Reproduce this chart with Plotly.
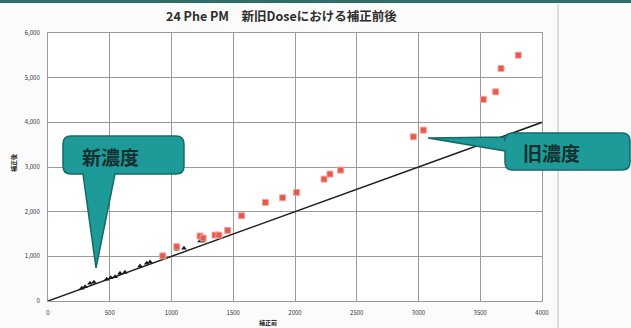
import plotly.graph_objects as go

# ---- data ----
title_text = "24 Phe PM　新旧Doseにおける補正前後"
x_title = "補正前"
y_title = "補正後"
label_new = "新濃度"
label_old = "旧濃度"

old_x = [929, 1042, 1231, 1256, 1352, 1384, 1455, 1568, 1760, 1900, 2013, 2235, 2283, 2370, 2958, 3039, 3525, 3625, 3668, 3808]
old_y = [1010, 1215, 1454, 1409, 1476, 1476, 1581, 1909, 2208, 2311, 2431, 2729, 2841, 2931, 3676, 3826, 4512, 4683, 5206, 5503]

new_x = [273, 300, 340, 372, 475, 508, 543, 583, 623, 745, 799, 826, 934, 1042, 1101, 1231, 1256]
new_y = [284, 320, 396, 418, 485, 521, 544, 620, 642, 783, 843, 872, 965, 1157, 1179, 1342, 1342]

ref_x = [0, 4000]
ref_y = [0, 4000]

x_ticks = [0, 500, 1000, 1500, 2000, 2500, 3000, 3500, 4000]
y_ticks = [0, 1000, 2000, 3000, 4000, 5000, 6000]

# ---- layout geometry (pixels) ----
W, H = 631, 328
L, R, T, B = 48, 542, 33, 301


def px(xp, yp):
    return (xp - L) / (R - L), (B - yp) / (B - T)


def callout_path(x0, y0, x1, y1, r, tail):
    def P(a, b):
        u, v = px(a, b)
        return f"{u:.5f},{v:.5f}"
    s = f"M {P(x0 + r, y0)} L {P(x1 - r, y0)} Q {P(x1, y0)} {P(x1, y0 + r)} "
    s += f"L {P(x1, y1 - r)} Q {P(x1, y1)} {P(x1 - r, y1)} "
    if tail[0] == 'bottom':
        for (a, b) in tail[1]:
            s += f"L {P(a, b)} "
    s += f"L {P(x0 + r, y1)} Q {P(x0, y1)} {P(x0, y1 - r)} "
    if tail[0] == 'left':
        for (a, b) in tail[1]:
            s += f"L {P(a, b)} "
    s += f"L {P(x0, y0 + r)} Q {P(x0, y0)} {P(x0 + r, y0)} Z"
    return s


teal = "#1e9a98"
teal_line = "#146a6a"

fig = go.Figure()

fig.add_trace(go.Scatter(x=ref_x, y=ref_y, mode="lines",
                         line=dict(color="#222222", width=1.5), showlegend=False))
fig.add_trace(go.Scatter(x=new_x, y=new_y, mode="markers",
                         marker=dict(symbol="triangle-up", size=5, color="#1a1a1a"),
                         showlegend=False))
fig.add_trace(go.Scatter(x=old_x, y=old_y, mode="markers",
                         marker=dict(symbol="square", size=6, color="#e5584c",
                                     line=dict(color="#f3a49c", width=1)),
                         showlegend=False))

shapes = [
    dict(type="rect", xref="paper", yref="paper",
         x0=px(0, 0)[0], x1=px(W, 0)[0], y0=px(0, 0)[1], y1=px(0, 3)[1],
         fillcolor="#2f6f6a", line=dict(width=0), layer="above"),
    dict(type="line", xref="paper", yref="paper",
         x0=px(558, 0)[0], x1=px(558, 0)[0], y0=px(0, 4)[1], y1=px(0, H)[1],
         line=dict(color="#bdbdbd", width=1)),
    dict(type="path", xref="paper", yref="paper",
         path=callout_path(63, 136, 184, 174, 8,
                           ('bottom', [(115, 174), (96, 268), (83, 174)])),
         fillcolor=teal, line=dict(color=teal_line, width=1.5), layer="above"),
    dict(type="path", xref="paper", yref="paper",
         path=callout_path(505, 133, 630, 170, 8,
                           ('left', [(505, 151), (428, 138), (505, 137)])),
         fillcolor=teal, line=dict(color=teal_line, width=1.5), layer="above"),
]


def ann(text, xp, yp, size, color, angle=0):
    u, v = px(xp, yp)
    return dict(text=f"<b>{text}</b>", xref="paper", yref="paper", x=u, y=v,
                xanchor="center", yanchor="middle", showarrow=False, textangle=angle,
                font=dict(size=size, color=color, family="Noto Sans CJK JP"))


annotations = [
    ann(title_text, 281, 16, 12.5, "#2e2e2e"),
    ann(x_title, 268, 322, 6, "#222222"),
    ann(y_title, 13, 163, 6, "#222222", -90),
    ann(label_new, 110, 156, 19, "#16302f"),
    ann(label_old, 551, 152, 19, "#16302f"),
]

fig.update_layout(
    width=W, height=H,
    margin=dict(l=L, r=W - R, t=T, b=H - B, pad=0),
    paper_bgcolor="#fbfbfb", plot_bgcolor="#ffffff",
    shapes=shapes, annotations=annotations,
    showlegend=False,
    font=dict(family="Noto Sans CJK JP"),
)
fig.update_xaxes(range=[0, 4000], tickvals=x_ticks, ticktext=[str(v) for v in x_ticks],
                 showgrid=True, gridcolor="#9a9a9a", gridwidth=1,
                 zeroline=False, showline=True, linecolor="#9a9a9a", mirror=True,
                 ticks="", tickfont=dict(size=6, color="#333333"), ticklabelstandoff=6)
fig.update_yaxes(range=[0, 6000], tickvals=y_ticks, ticktext=[f"{v:,}" for v in y_ticks],
                 showgrid=True, gridcolor="#9a9a9a", gridwidth=1,
                 zeroline=False, showline=True, linecolor="#9a9a9a", mirror=True,
                 ticks="", tickfont=dict(size=6, color="#333333"), ticklabelstandoff=6)

fig.write_html("out.html", config={"displayModeBar": False},
               post_script="document.body.style.margin='0';")
